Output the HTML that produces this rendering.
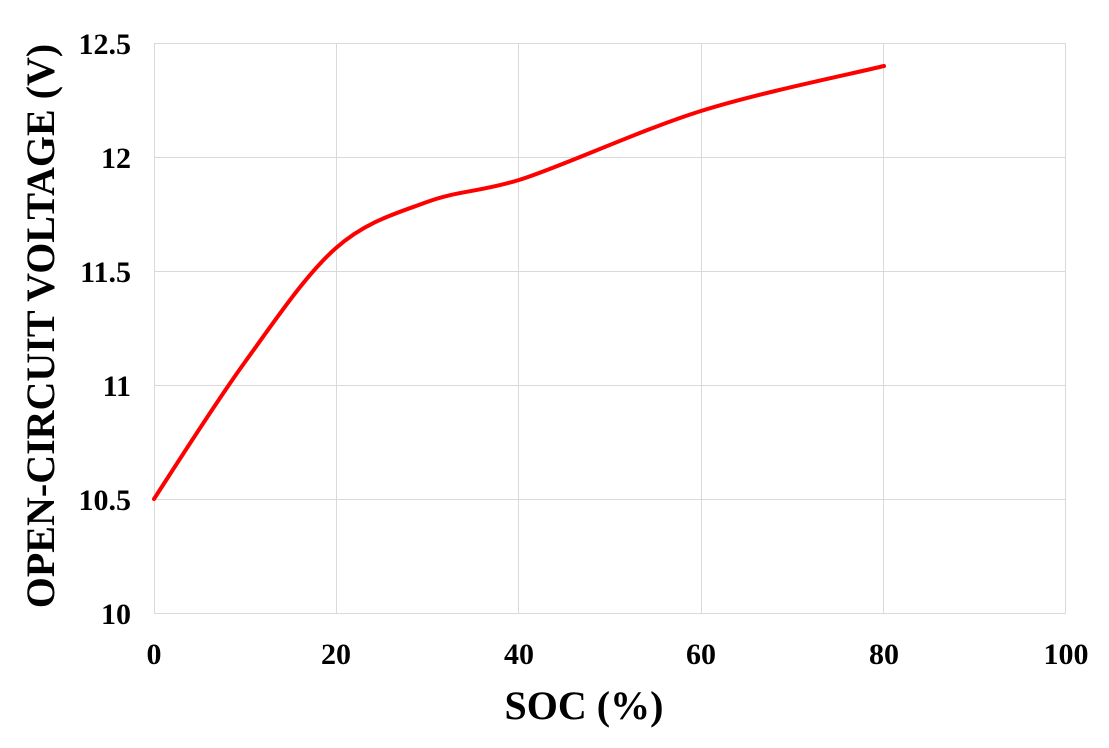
<!DOCTYPE html>
<html><head><meta charset="utf-8"><style>
body{margin:0;background:#fff;}
svg text{font-family:"Liberation Serif",serif;font-weight:bold;fill:#000;}
</style></head><body>
<svg width="1109" height="743" viewBox="0 0 1109 743" xmlns="http://www.w3.org/2000/svg">
<g stroke="#d9d9d9" stroke-width="1">
<line x1="154" y1="43.5" x2="1066" y2="43.5"/>
<line x1="154" y1="157.5" x2="1066" y2="157.5"/>
<line x1="154" y1="271.5" x2="1066" y2="271.5"/>
<line x1="154" y1="385.5" x2="1066" y2="385.5"/>
<line x1="154" y1="499.5" x2="1066" y2="499.5"/>
<line x1="154" y1="613.5" x2="1066" y2="613.5"/>
<line x1="154.5" y1="43" x2="154.5" y2="613"/>
<line x1="336.5" y1="43" x2="336.5" y2="613"/>
<line x1="518.5" y1="43" x2="518.5" y2="613"/>
<line x1="701.5" y1="43" x2="701.5" y2="613"/>
<line x1="883.5" y1="43" x2="883.5" y2="613"/>
<line x1="1065.5" y1="43" x2="1065.5" y2="613"/>
</g>
<g font-size="30" text-anchor="end">
<text x="131" y="54">12.5</text>
<text x="131" y="168">12</text>
<text x="131" y="282">11.5</text>
<text x="131" y="396">11</text>
<text x="131" y="510">10.5</text>
<text x="131" y="624">10</text>
</g>
<g font-size="30" text-anchor="middle">
<text x="154" y="664">0</text>
<text x="336" y="664">20</text>
<text x="519" y="664">40</text>
<text x="701" y="664">60</text>
<text x="884" y="664">80</text>
<text x="1066" y="664">100</text>
</g>
<text x="584" y="719" font-size="40" text-anchor="middle">SOC (%)</text>
<text transform="translate(54,326) rotate(-90)" font-size="40" text-anchor="middle">OPEN-CIRCUIT VOLTAGE (V)</text>
<path d="M154,499 C169,476 214.7,403.8 245,362 C275.3,320.2 305.7,274.7 336,248 C366.3,221.3 396.5,213.3 427,202 C457.5,190.7 480,192 519,180 C560,167.4 640.2,130 701,111 C761.8,92 853.5,73.5 884,66" fill="none" stroke="#ff0000" stroke-width="4" stroke-linecap="round"/>
</svg>
</body></html>
